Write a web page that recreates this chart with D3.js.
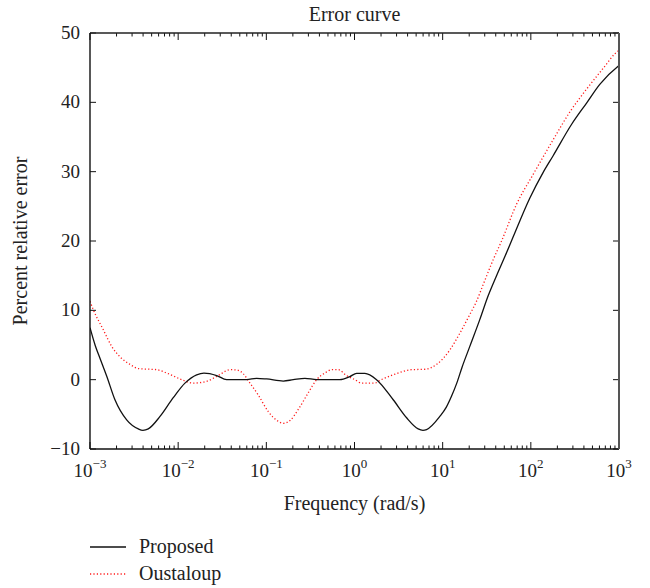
<!DOCTYPE html>
<html>
<head>
<meta charset="utf-8">
<script src="https://cdn.jsdelivr.net/npm/d3@7"></script>
<style>
  body { margin: 0; background: #fff; }
  text { font-family: "Liberation Serif", "DejaVu Serif", serif; fill: #222; }
</style>
</head>
<body>
<div id="app"></div>
<script>
// exponents of frequency (log10 rad/s) and percent relative error
const proposedExp = [-3.0, -2.94, -2.887, -2.81, -2.717, -2.584, -2.452, -2.40, -2.339, -2.206, -2.056, -1.923, -1.79, -1.707, -1.563, -1.45, -1.223, -1.11, -0.997, -0.808, -0.695, -0.562, -0.43, -0.166, -0.052, 0.024, 0.118, 0.25, 0.439, 0.591, 0.722, 0.776, 0.817, 0.968, 1.04, 1.10, 1.16, 1.22, 1.308, 1.422, 1.516, 1.611, 1.724, 1.80, 1.989, 2.14, 2.253, 2.461, 2.632, 2.782, 2.99, 3.0];
const proposedErr = [7.5, 4.9, 3.1, 0.5, -2.9, -5.8, -7.1, -7.3, -7.1, -5.3, -2.6, -0.5, 0.7, 0.95, 0.6, 0.0, 0.0, 0.2, 0.1, -0.2, 0.0, 0.2, 0.0, 0.0, 0.45, 0.9, 0.9, 0.0, -2.9, -5.5, -7.1, -7.3, -7.2, -5.3, -4.0, -2.4, -0.5, 1.8, 4.8, 8.7, 12.1, 15.0, 18.3, 20.6, 26.2, 29.9, 32.3, 36.8, 39.9, 42.6, 45.2, 45.3];

const oustaloupExp = [-3.0, -2.963, -2.849, -2.754, -2.66, -2.546, -2.452, -2.244, -2.112, -1.96, -1.829, -1.677, -1.545, -1.413, -1.337, -1.262, -1.186, -1.092, -0.978, -0.865, -0.808, -0.732, -0.638, -0.525, -0.43, -0.336, -0.26, -0.185, -0.09, 0.005, 0.08, 0.23, 0.288, 0.439, 0.647, 0.798, 0.931, 1.082, 1.195, 1.308, 1.384, 1.459, 1.573, 1.668, 1.838, 2.026, 2.253, 2.442, 2.632, 2.858, 2.952, 3.0];
const oustaloupErr = [11.3, 10.1, 7.2, 4.8, 3.3, 2.2, 1.6, 1.44, 0.86, 0.0, -0.5, -0.24, 0.6, 1.44, 1.4, 0.86, -0.5, -2.2, -4.6, -6.0, -6.3, -5.9, -4.3, -1.9, 0.0, 0.96, 1.44, 1.44, 0.58, 0.0, -0.5, -0.5, -0.1, 0.7, 1.44, 1.5, 2.2, 4.3, 6.7, 9.4, 11.3, 13.7, 17.3, 20.0, 25.3, 29.6, 34.6, 38.6, 41.9, 45.5, 47.0, 47.5];

const xTickExp = [-3, -2, -1, 0, 1, 2, 3];
const yTicks = [-10, 0, 10, 20, 30, 40, 50];
const seriesNames = ["Proposed", "Oustaloup"];

const width = 650;
const height = 588;
const margin = { top: 33, right: 31, bottom: 139, left: 90 };
const innerWidth = width - margin.left - margin.right;
const innerHeight = height - margin.top - margin.bottom;

const svg = d3.select('#app').append('svg')
    .attr('width', width).attr('height', height);
const g = svg.append('g')
    .attr('transform', `translate(${margin.left}, ${margin.top})`);

const x = d3.scaleLog().domain([1e-3, 1e3]).range([0, innerWidth]);
const y = d3.scaleLinear().domain([-10, 50]).range([innerHeight, 0]);

const toPoints = (ex, ev) => ex.map((e, i) => [Math.pow(10, e), ev[i]]);
const line = d3.line().x(d => x(d[0])).y(d => y(d[1])).curve(d3.curveMonotoneX);

svg.append('defs').append('clipPath').attr('id', 'clip')
    .append('rect').attr('width', innerWidth).attr('height', innerHeight);

const plot = g.append('g').attr('clip-path', 'url(#clip)');
plot.append('path')
    .attr('d', line(toPoints(oustaloupExp, oustaloupErr)))
    .attr('fill', 'none').attr('stroke', '#ff1a1a')
    .attr('stroke-width', 1.3).attr('stroke-dasharray', '1.2,2.2');
plot.append('path')
    .attr('d', line(toPoints(proposedExp, proposedErr)))
    .attr('fill', 'none').attr('stroke', '#111')
    .attr('stroke-width', 1.3);

// minor ticks 2..9 per decade
const minor = [];
for (let e = -3; e < 3; e++)
    for (let k = 2; k <= 9; k++) minor.push(k * Math.pow(10, e));

const majors = xTickExp.map(e => Math.pow(10, e));

const axes = g.append('g').attr('stroke', '#111').attr('stroke-width', 1);
// bottom & top ticks (inward)
axes.selectAll('.xmin').data(minor).join('line')
    .attr('x1', d => x(d)).attr('x2', d => x(d))
    .attr('y1', innerHeight).attr('y2', innerHeight - 3.5);
axes.selectAll('.xmint').data(minor).join('line')
    .attr('x1', d => x(d)).attr('x2', d => x(d))
    .attr('y1', 0).attr('y2', 3.5);
axes.selectAll('.xmaj').data(majors).join('line')
    .attr('x1', d => x(d)).attr('x2', d => x(d))
    .attr('y1', innerHeight).attr('y2', innerHeight - 7);
axes.selectAll('.xmajt').data(majors).join('line')
    .attr('x1', d => x(d)).attr('x2', d => x(d))
    .attr('y1', 0).attr('y2', 7);
// left & right ticks
axes.selectAll('.yl').data(yTicks).join('line')
    .attr('x1', 0).attr('x2', 6)
    .attr('y1', d => y(d)).attr('y2', d => y(d));
axes.selectAll('.yr').data(yTicks).join('line')
    .attr('x1', innerWidth).attr('x2', innerWidth - 6)
    .attr('y1', d => y(d)).attr('y2', d => y(d));

// frame
g.append('line').attr('x1', 0).attr('x2', innerWidth).attr('y1', 0).attr('y2', 0)
    .attr('stroke', '#222').attr('stroke-width', 1.4);
g.append('line').attr('x1', 0).attr('x2', innerWidth).attr('y1', innerHeight).attr('y2', innerHeight)
    .attr('stroke', '#111').attr('stroke-width', 1.4);
g.append('line').attr('x1', 0).attr('x2', 0).attr('y1', 0).attr('y2', innerHeight)
    .attr('stroke', '#111').attr('stroke-width', 1.4);
g.append('line').attr('x1', innerWidth).attr('x2', innerWidth).attr('y1', 0).attr('y2', innerHeight)
    .attr('stroke', '#555').attr('stroke-width', 2);

// y tick labels
g.selectAll('.ylab').data(yTicks).join('text')
    .attr('x', -10).attr('y', d => y(d) + 6)
    .attr('text-anchor', 'end').attr('font-size', 19)
    .text(d => d < 0 ? '\u2212' + Math.abs(d) : d);

// x tick labels, 10 with superscript exponent
const xl = g.selectAll('.xlab').data(xTickExp).join('text')
    .attr('x', d => x(Math.pow(10, d))).attr('y', innerHeight + 28)
    .attr('text-anchor', 'middle').attr('font-size', 19);
xl.append('tspan').text('10');
xl.append('tspan').attr('dy', -9).attr('font-size', 13)
    .text(d => d < 0 ? '\u2212' + Math.abs(d) : d);

// title and axis labels
svg.append('text').attr('x', margin.left + innerWidth / 2).attr('y', 21)
    .attr('text-anchor', 'middle').attr('font-size', 20).text('Error curve');
svg.append('text').attr('x', margin.left + innerWidth / 2).attr('y', 510)
    .attr('text-anchor', 'middle').attr('font-size', 20).text('Frequency (rad/s)');
svg.append('text')
    .attr('transform', `translate(27, ${margin.top + innerHeight / 2}) rotate(-90)`)
    .attr('text-anchor', 'middle').attr('font-size', 20).text('Percent relative error');

// legend
const legend = svg.append('g').attr('transform', 'translate(90, 547)');
const item = legend.selectAll('g').data(seriesNames).join('g')
    .attr('transform', (d, i) => `translate(0, ${i * 27})`);
item.append('line').attr('x1', 0).attr('x2', 36).attr('y1', 0).attr('y2', 0)
    .attr('stroke', (d, i) => i === 0 ? '#111' : '#ff1a1a')
    .attr('stroke-width', 1.4)
    .attr('stroke-dasharray', (d, i) => i === 0 ? null : '1.2,2.2');
item.append('text').attr('x', 49).attr('y', 6).attr('font-size', 20).text(d => d);
</script>
</body>
</html>
